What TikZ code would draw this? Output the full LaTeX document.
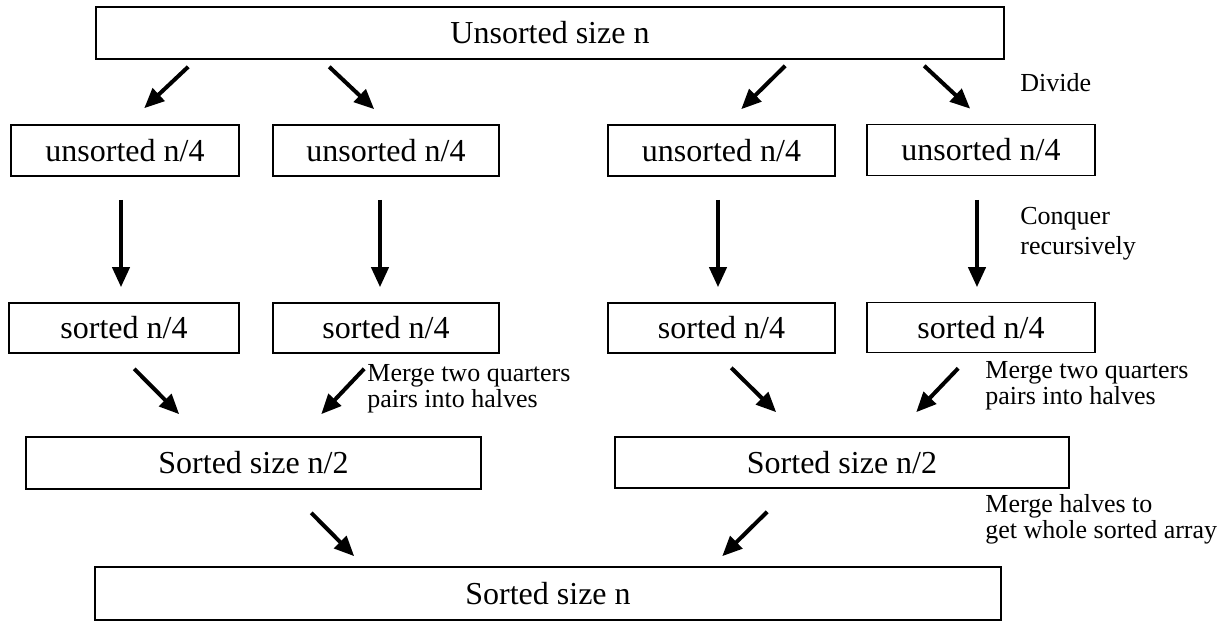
\documentclass[tikz,border=0pt]{standalone}
\usepackage{fontspec}
\setmainfont{Liberation Serif}
\usetikzlibrary{arrows.meta,calc}
\begin{document}
\begin{tikzpicture}[x=0.5pt,y=-0.5pt,
  box/.style={draw,line width=0.8pt,rectangle,inner sep=0pt,font=\fontsize{16}{19}\selectfont},
  arr/.style={line width=2pt,-{Triangle[length=10pt,width=8.5pt]}},
  note/.style={anchor=west,align=left,inner sep=0pt,font=\fontsize{13}{11}\selectfont}]
\useasboundingbox (0,0) rectangle (1222,622);
% boxes
\node[box,minimum width=454pt,minimum height=26pt] (top) at (550,33) {Unsorted size n};
\node[box,minimum width=114pt,minimum height=25.5pt] (q1) at (125,150.5) {unsorted n/4};
\node[box,minimum width=113pt,minimum height=25.5pt] (q2) at (386,150.5) {unsorted n/4};
\node[box,minimum width=113.5pt,minimum height=25.5pt] (q3) at (721.5,150.5) {unsorted n/4};
\node[box,minimum width=114pt,minimum height=25.5pt] (q4) at (981,150) {unsorted n/4};
\node[box,minimum width=115pt,minimum height=25pt] (s1) at (124,328) {sorted n/4};
\node[box,minimum width=113pt,minimum height=25pt] (s2) at (386,328) {sorted n/4};
\node[box,minimum width=113.5pt,minimum height=25pt] (s3) at (721.5,328) {sorted n/4};
\node[box,minimum width=114pt,minimum height=25pt] (s4) at (981,327.5) {sorted n/4};
\node[box,minimum width=227.5pt,minimum height=26pt] (h1) at (253.5,463) {Sorted size n/2};
\node[box,minimum width=227pt,minimum height=25.5pt] (h2) at (842,462.5) {Sorted size n/2};
\node[box,minimum width=453pt,minimum height=26.5pt] (bot) at (548,593.5) {Sorted size n};
% divide arrows
\draw[arr] ($(top.south west)+(93,7)$) -- ($(q1.north west)+(134,-16)$);
\draw[arr] ($(top.south west)+(234,7)$) -- ($(q2.north west)+(102,-15)$);
\draw[arr] ($(top.south west)+(690,6)$) -- ($(q3.north west)+(134,-15)$);
\draw[arr] ($(top.south west)+(829,6)$) -- ($(q4.north west)+(104,-15)$);
% conquer arrows
\draw[arr] ($(q1.south)+(-4,23)$) -- ($(s1.north)+(-3,-15)$);
\draw[arr] ($(q2.south)+(-6,23)$) -- ($(s2.north)+(-6,-15)$);
\draw[arr] ($(q3.south)+(-3.5,23)$) -- ($(s3.north)+(-3.5,-15)$);
\draw[arr] ($(q4.south)+(-4,23.5)$) -- ($(s4.north)+(-4,-14.5)$);
% merge quarters
\draw[arr] ($(s1.south west)+(126,15)$) -- ($(h1.north west)+(154,-22)$);
\draw[arr] ($(s2.south west)+(92,15)$) -- ($(h1.north west)+(296,-22)$);
\draw[arr] ($(s3.south west)+(124,14)$) -- ($(h2.north west)+(162,-24)$);
\draw[arr] ($(s4.south west)+(92,15)$) -- ($(h2.north west)+(302,-24)$);
% merge halves
\draw[arr] ($(h1.south west)+(286,23)$) -- ($(bot.north west)+(260,-10)$);
\draw[arr] ($(h2.south west)+(153,23)$) -- ($(bot.north west)+(628,-10)$);
% notes
\node[note] (ndiv) at (1020,83) {Divide};
\node[note,font=\fontsize{13}{15}\selectfont] (ncon) at (1020,234) {Conquer\\recursively};
\node[note] (nm1) at (367,389) {Merge two quarters\\pairs into halves};
\node[note] (nm2) at (985,386) {Merge two quarters\\pairs into halves};
\node[note] (nm3) at (985,519) {Merge halves to\\get whole sorted array};
\end{tikzpicture}
\end{document}
